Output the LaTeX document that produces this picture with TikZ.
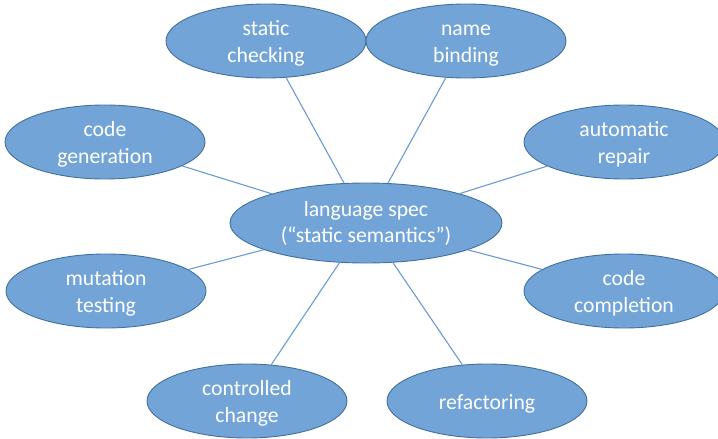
\documentclass[tikz,border=0pt]{standalone}
\usepackage{fontspec}
\setmainfont{Carlito}
\usetikzlibrary{shapes.geometric}
\definecolor{efill}{RGB}{115,164,215}
\definecolor{edraw}{RGB}{65,113,156}
\definecolor{link}{RGB}{105,155,212}
\newcommand{\lbl}[2][5.5pt]{\raisebox{#1}[0pt][0pt]{\begin{tabular}[t]{@{}c@{}}#2\end{tabular}}}
\tikzset{
  bubble/.style={ellipse, draw=edraw, line width=0.9pt, fill=efill, text=white,
    minimum width=200pt, minimum height=74pt, inner sep=0pt,
    font=\fontsize{21.7}{26.5}\selectfont},
  hub/.style={bubble, minimum width=272pt, minimum height=80pt,
    font=\fontsize{21.7}{26}\selectfont},
  link/.style={draw=link, line width=1.1pt}
}
\begin{document}
\begin{tikzpicture}[x=1pt,y=-1pt]
\useasboundingbox (0,0) rectangle (718,439);
\clip (0,0) rectangle (718,439);
\node[hub] (L) at (366,223) {\lbl[6.5pt]{language spec\\(“static semantics”)}};
\node[bubble] (S) at (266,41) {\lbl{static\\checking}};
\node[bubble] (N) at (466,41) {\lbl{name\\binding}};
\node[bubble] (CG) at (105,142) {\lbl{code\\generation}};
\node[bubble] (AR) at (624,142) {\lbl{automatic\\repair}};
\node[bubble] (MT) at (106,291) {\lbl{mutation\\testing}};
\node[bubble] (CC) at (624,291) {\lbl{code\\completion}};
\node[bubble] (CH) at (247,401) {\lbl{controlled\\change}};
\node[bubble] (RF) at (487,401) {\lbl[-8.5pt]{refactoring}};
\foreach \n in {S,N,CG,AR,MT,CC,CH,RF}
  \draw[link] (L) -- (\n);
\end{tikzpicture}
\end{document}
